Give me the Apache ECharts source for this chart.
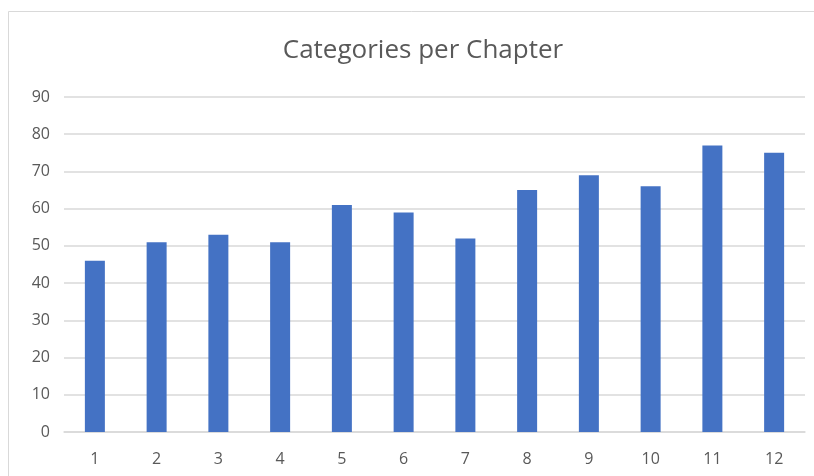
<!DOCTYPE html>
<html>
<head>
<meta charset="utf-8">
<script src="https://cdn.jsdelivr.net/npm/echarts@6/dist/echarts.min.js"></script>
<style>
  html, body { margin: 0; padding: 0; background: #fff; }
  #chart { width: 814px; height: 476px; }
</style>
</head>
<body>
<div id="chart"></div>
<script>
// Chapter numbers and the number of categories in each
const chapters = ['1', '2', '3', '4', '5', '6', '7', '8', '9', '10', '11', '12'];
const categoryCounts = [46, 51, 53, 51, 61, 59, 52, 65, 69, 66, 77, 75];
const yTicks = [0, 10, 20, 30, 40, 50, 60, 70, 80, 90];

const textColor = '#595959';
const fontFamily = '"Open Sans", "Noto Sans", sans-serif';

const chart = echarts.init(document.getElementById('chart'), null, { renderer: 'canvas' });

chart.setOption({
  backgroundColor: '#ffffff',
  animation: false,
  graphic: [{
    type: 'rect',
    shape: { x: 8.5, y: 11.5, width: 820, height: 480 },
    style: { fill: 'none', stroke: '#d9d9d9', lineWidth: 1 },
    silent: true
  }],
  title: {
    text: 'Categories per Chapter',
    left: 418,
    textAlign: 'center',
    top: 33,
    textStyle: { color: textColor, fontSize: 26, fontWeight: 'normal', fontFamily: fontFamily }
  },
  grid: { left: 64, right: 9, top: 97, bottom: 44, containLabel: false },
  xAxis: {
    type: 'category',
    data: chapters,
    axisLine: { show: true, lineStyle: { color: '#d9d9d9', width: 1.5 } },
    axisTick: { show: false },
    axisLabel: { color: textColor, fontSize: 16, margin: 19, fontFamily: fontFamily }
  },
  yAxis: {
    type: 'value',
    min: yTicks[0],
    max: yTicks[yTicks.length - 1],
    interval: yTicks[1] - yTicks[0],
    axisLine: { show: false },
    axisTick: { show: false },
    splitLine: { lineStyle: { color: '#d9d9d9', width: 1.5 } },
    axisLabel: { color: textColor, fontSize: 16, margin: 14, fontFamily: fontFamily }
  },
  series: [{
    type: 'bar',
    data: categoryCounts,
    barWidth: 20,
    itemStyle: { color: '#4472c4' }
  }]
});
</script>
</body>
</html>
